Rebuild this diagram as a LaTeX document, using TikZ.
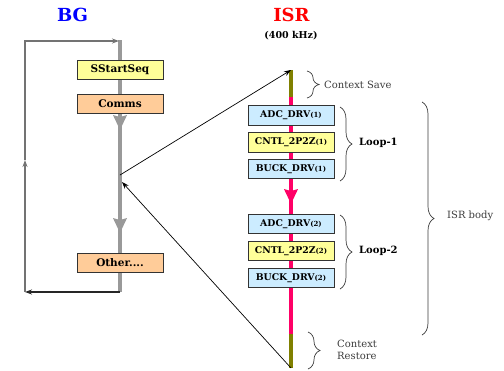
\documentclass[tikz,border=0pt]{standalone}
\usepackage{fontspec}
\setmainfont{DejaVu Serif}
\usetikzlibrary{arrows.meta,decorations.pathreplacing}
\definecolor{bgflow}{RGB}{153,153,153}
\definecolor{isrflow}{RGB}{255,0,102}
\definecolor{ctxflow}{RGB}{128,128,0}
\definecolor{boxyellow}{RGB}{255,255,153}
\definecolor{boxorange}{RGB}{255,204,153}
\definecolor{boxblue}{RGB}{204,236,255}
\definecolor{txtgray}{RGB}{60,60,60}
\newcommand{\idx}[1]{{\fontsize{7}{8}\selectfont(#1)}}
\tikzset{
  pics/flowtip/.style={code={
    \fill[pic actions] (-7,0) .. controls (-5,5) and (-2,10) .. (0,15)
      .. controls (2,10) and (5,5) .. (7,0) -- (0,2) -- cycle;
  }},
}
\begin{document}
\begin{tikzpicture}[x=1pt,y=-1pt,
  task/.style={draw=black!80, line width=0.8pt, minimum width=86pt,
    minimum height=19.5pt, inner sep=0pt,
    font=\bfseries\fontsize{9.3}{10}\selectfont},
  bgtask/.style={task, font=\bfseries\fontsize{10.5}{11}\selectfont},
  bgline/.style={draw=bgflow, line width=4pt},
  loopline/.style={line width=1.2pt, -{Stealth[length=7pt,width=5pt]}},
  irqline/.style={draw=black, line width=0.7pt, -{Stealth[length=7pt,width=5pt]}},
  isrline/.style={line width=4.5pt},
  brc/.style={draw=txtgray, line width=0.7pt, decorate,
    decoration={brace, amplitude=12pt}},
  note/.style={text=txtgray, font=\fontsize{10}{12.5}\selectfont, align=left, anchor=west, inner sep=0pt},
  tag/.style={font=\bfseries\fontsize{10}{12}\selectfont, anchor=west, inner sep=0pt},
]
\useasboundingbox (0,0) rectangle (504,370);

% titles
\node[text=blue, font=\bfseries\fontsize{18}{20}\selectfont] (bgtitle) at (72.5,15) {BG};
\node[text=red, font=\bfseries\fontsize{18}{20}\selectfont] (isrtitle) at (291.5,15) {ISR};
\node[font=\bfseries\fontsize{9.5}{10}\selectfont] (rate) at (291,36) {(400 kHz)};

% background loop: main flow line
\coordinate (bgtop) at (120,40);
\coordinate (bgbot) at (120,292);
\coordinate (bgint) at (120,175);
\coordinate (bgret) at (122,182);
\draw[bgline] (bgtop) -- (bgbot);
\pic[fill=bgflow] at (120,115) {flowtip};
\pic[fill=bgflow] at (120,218) {flowtip};

% return path of the background loop
\coordinate (lb) at (25,292);
\coordinate (lm) at (25,160);
\coordinate (lt) at (25,41);
\coordinate (bgin) at (119,41);
\draw[loopline, draw=black!85] (bgbot) -- (lb);
\draw[loopline, draw=black!55] (lb) -- (lm);
\draw[loopline, draw=black!55] (lm) -- (lt) -- (bgin);

% background tasks
\node[bgtask, fill=boxyellow] (sstart) at (120,70) {SStartSeq};
\node[bgtask, fill=boxorange] (comms) at (120,104) {Comms};
\node[bgtask, fill=boxorange] (other) at (120,263) {Other....};

% ISR flow line
\coordinate (isrtop) at (291,70);
\coordinate (isrsave) at (291,97);
\coordinate (isrrest) at (291,334);
\coordinate (isrbot) at (291,368);
\draw[isrline, draw=ctxflow] (isrtop) -- (isrsave);
\draw[isrline, draw=isrflow] (isrsave) -- (isrrest);
\draw[isrline, draw=ctxflow] (isrrest) -- (isrbot);
\pic[fill=isrflow] at (291,189) {flowtip};

% interrupt entry and return
\draw[irqline] (bgint) -- (isrtop);
\draw[irqline] (isrbot) -- (bgret);

% ISR tasks
\node[task, fill=boxblue] (adc1) at (291,115.5) {ADC\_DRV\idx{1}};
\node[task, fill=boxyellow] (cntl1) at (291,142.5) {CNTL\_2P2Z\idx{1}};
\node[task, fill=boxblue] (buck1) at (291,169) {BUCK\_DRV\idx{1}};
\node[task, fill=boxblue] (adc2) at (291,224) {ADC\_DRV\idx{2}};
\node[task, fill=boxyellow] (cntl2) at (291,251) {CNTL\_2P2Z\idx{2}};
\node[task, fill=boxblue] (buck2) at (291,278) {BUCK\_DRV\idx{2}};

% braces and their labels
\draw[brc] (307,71) -- (307,98);
\node[note] (csave) at (324,84.5) {Context Save};
\draw[brc] (340,107) -- (340,181);
\node[tag] (loop1) at (359,142.5) {Loop-1};
\draw[brc] (340,215) -- (340,289);
\node[tag] (loop2) at (359,251) {Loop-2};
\draw[brc] (422,102) -- (422,335);
\node[note] (body) at (447,216) {ISR body};
\draw[brc] (308,332) -- (308,369);
\node[note] (crest) at (337,350) {Context\\Restore};
\end{tikzpicture}
\end{document}
